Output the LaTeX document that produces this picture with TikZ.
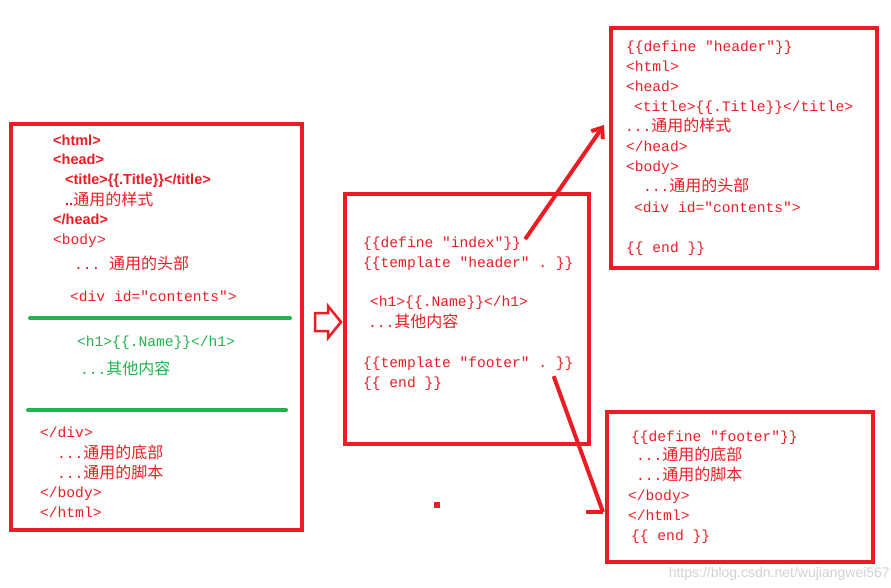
\documentclass[tikz,border=0pt]{standalone}
\usepackage{fontspec}
\setmainfont{Liberation Sans}
\setmonofont{Liberation Mono}
\newfontfamily\cjk{Noto Sans CJK SC}
\usetikzlibrary{arrows.meta}
\definecolor{rd}{HTML}{ED1C24}
\definecolor{gr}{HTML}{22B14C}
\tikzset{box/.style={draw=rd,line width=4pt},
 cd/.style={anchor=base west,inner sep=0pt,text=rd,font=\ttfamily\fontsize{14.6pt}{14pt}\selectfont},
 sb/.style={anchor=base west,inner sep=0pt,text=rd,font=\bfseries\fontsize{14.5pt}{14pt}\selectfont},
 gl/.style={draw=gr,line width=4pt,line cap=round},
 ar/.style={draw=rd,line width=4pt}}
\newcommand{\zh}[1]{{\cjk\fontsize{16pt}{16pt}\selectfont #1}}
\newcommand{\zhr}[1]{{\cjk\mdseries\fontsize{16pt}{16pt}\selectfont #1}}
\begin{document}
\begin{tikzpicture}[x=1pt,y=-1pt]
\useasboundingbox (0,0) rectangle (891,588);
\draw[box] (11,124) rectangle (302,530);
\node[box,minimum width=244pt,minimum height=250pt,anchor=north west,inner sep=0pt] (mid) at (343,192) {};
\draw[box] (611,28) rectangle (877,268);
\draw[box] (607,412) rectangle (873,562);
\coordinate (hd) at (604,125);
\coordinate (ft) at (603,512);
% left
\node[sb] (l1) at (53,146) {<html>};
\node[sb] (l2) at (53,165) {<head>};
\node[sb] (l3) at (65,185) {<title>\{\{.Title\}\}</title>};
\node[sb] (l4) at (65,205) {..\zhr{通用的样式}};
\node[sb] (l5) at (53,224) {</head>};
\node[cd] (l6) at (53,244) {<body>};
\node[cd] (l7) at (74,269) {... \zh{通用的头部}};
\node[cd] (l8) at (70,301) {<div id="contents">};
\draw[gl] (30,318) -- (290,318);
\node[cd,text=gr] (l9) at (77,346) {<h1>\{\{.Name\}\}</h1>};
\node[cd,text=gr] (l10) at (80,374) {...\zh{其他内容}};
\draw[gl] (28,410) -- (286,410);
\node[cd] (l11) at (40,437) {</div>};
\node[cd] (l12) at (57,458) {...\zh{通用的底部}};
\node[cd] (l13) at (57,478) {...\zh{通用的脚本}};
\node[cd] (l14) at (40,497) {</body>};
\node[cd] (l15) at (40,517) {</html>};
% hollow arrow
\draw[draw=rd,line width=2.5pt,line join=miter] (315,313)--(328,313)--(328,306)--(341,322)--(328,338)--(328,331)--(315,331)--cycle;
% mid
\node[cd] (m1) at (363,247) {\{\{define "index"\}\}};
\node[cd] (m2) at (363,267) {\{\{template "header" . \}\}};
\node[cd] (m3) at (370,306) {<h1>\{\{.Name\}\}</h1>};
\node[cd] (m4) at (368,327) {...\zh{其他内容}};
\node[cd] (m5) at (363,367) {\{\{template "footer" . \}\}};
\node[cd] (m6) at (363,387) {\{\{ end \}\}};
\fill[rd] (434,502) rectangle (440,508);
% top right
\node[cd] (h1) at (626,52) {\{\{define "header"\}\}};
\node[cd] (h2) at (626,72) {<html>};
\node[cd] (h3) at (626,92) {<head>};
\node[cd] (h4) at (634,112) {<title>\{\{.Title\}\}</title>};
\node[cd] (h5) at (625,132) {...\zh{通用的样式}};
\node[cd] (h6) at (626,152) {</head>};
\node[cd] (h7) at (626,172) {<body>};
\node[cd] (h8) at (643,192) {...\zh{通用的头部}};
\node[cd] (h9) at (634,212) {<div id="contents">};
\node[cd] (h10) at (626,252) {\{\{ end \}\}};
% bottom right
\node[cd] (f1) at (631,441) {\{\{define "footer"\}\}};
\node[cd] (f2) at (636,460) {...\zh{通用的底部}};
\node[cd] (f3) at (636,480) {...\zh{通用的脚本}};
\node[cd] (f4) at (628,500) {</body>};
\node[cd] (f5) at (628,520) {</html>};
\node[cd] (f6) at (631,540) {\{\{ end \}\}};
% arrows
\draw[ar,-{Straight Barb[length=9pt,width=14pt]}] (m1.east)+(4,-4) -- (hd);
\draw[ar] (m5.east)+(-20,13) -- (ft);
\draw[ar] (586,512) -- (ft);
\node[anchor=base east,text=black!18,font=\fontsize{14pt}{14pt}\selectfont,inner sep=0pt] (wm) at (890,577) {https://blog.csdn.net/wujiangwei567};
\end{tikzpicture}
\end{document}
